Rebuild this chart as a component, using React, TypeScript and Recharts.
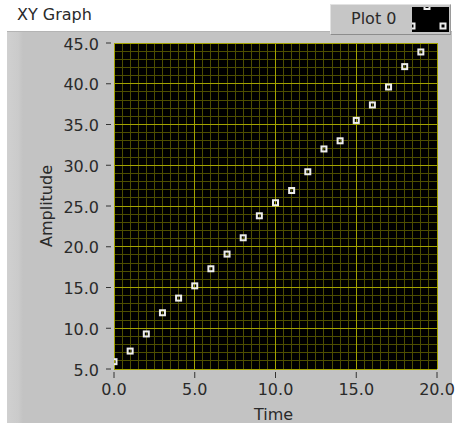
import React from "react";
import { ScatterChart, Scatter, XAxis, YAxis, CartesianGrid, Label } from "recharts";

const timeValues = [0, 1, 2, 3, 4, 5, 6, 7, 8, 9, 10, 11, 12, 13, 14, 15, 16, 17, 18, 19];
const amplitudeValues = [5.9, 7.2, 9.3, 11.9, 13.7, 15.2, 17.3, 19.1, 21.1, 23.8, 25.4, 26.9, 29.2, 32.0, 33.0, 35.5, 37.4, 39.6, 42.1, 43.9];

const xMajorTicks = [0, 5, 10, 15, 20];
const yMajorTicks = [5, 10, 15, 20, 25, 30, 35, 40, 45];
const xMinorTicks = [0, 0.5, 1, 1.5, 2, 2.5, 3, 3.5, 4, 4.5, 5, 5.5, 6, 6.5, 7, 7.5, 8, 8.5, 9, 9.5, 10, 10.5, 11, 11.5, 12, 12.5, 13, 13.5, 14, 14.5, 15, 15.5, 16, 16.5, 17, 17.5, 18, 18.5, 19, 19.5, 20];
const yMinorTicks = [5, 6, 7, 8, 9, 10, 11, 12, 13, 14, 15, 16, 17, 18, 19, 20, 21, 22, 23, 24, 25, 26, 27, 28, 29, 30, 31, 32, 33, 34, 35, 36, 37, 38, 39, 40, 41, 42, 43, 44, 45];

const chartTitle = "XY Graph";
const plotName = "Plot 0";
const xAxisName = "Time";
const yAxisName = "Amplitude";

const data = timeValues.map((t, i) => ({ time: t, amplitude: amplitudeValues[i] }));

const FONT = "'DejaVu Sans', Verdana, sans-serif";
const TEXT_COLOR = "#2a2a2a";

function XTick(props: any) {
  const { x, y, payload } = props;
  return (
    <g>
      <line x1={x} x2={x} y1={y + 3} y2={y + 9} stroke="#333" strokeWidth={1} />
      <text x={x} y={y + 26} textAnchor="middle" fontSize={16} fontFamily={FONT} fill={TEXT_COLOR}>
        {Number(payload.value).toFixed(1)}
      </text>
    </g>
  );
}

function YTick(props: any) {
  const { x, y, payload } = props;
  return (
    <g>
      <line x1={x - 8} x2={x - 3} y1={y} y2={y} stroke="#333" strokeWidth={1} />
      <text x={x - 15} y={y + 6.5} textAnchor="end" fontSize={16} fontFamily={FONT} fill={TEXT_COLOR}>
        {Number(payload.value).toFixed(1)}
      </text>
    </g>
  );
}

function TimeLabel(props: any) {
  const vb = props.viewBox;
  return (
    <text x={vb.x + vb.width / 2 - 2} y={vb.y + 51} textAnchor="middle" fontSize={16} fontFamily={FONT} fill={TEXT_COLOR}>
      {xAxisName}
    </text>
  );
}

function AmpLabel(props: any) {
  const vb = props.viewBox;
  const cx = vb.x + 38;
  const cy = vb.y + vb.height / 2;
  return (
    <text x={cx} y={cy} transform={`rotate(-90, ${cx}, ${cy})`} textAnchor="middle" fontSize={16} fontFamily={FONT} fill={TEXT_COLOR}>
      {yAxisName}
    </text>
  );
}

function SquarePoint(props: any) {
  const { cx, cy } = props;
  if (cx == null || cy == null) return <g />;
  return <rect x={cx - 2.5} y={cy - 2.5} width={5} height={5} fill="none" stroke="#eeeeee" strokeWidth={2} />;
}

const scaleOf = (axis: any) => (axis && axis.scale ? (typeof axis.scale === "function" ? axis.scale : axis.scale.map || axis.scale) : null);

const minorVertical = ({ xAxis }: any) => {
  const s = scaleOf(xAxis);
  return s ? xMinorTicks.map((v) => s(v)) : [];
};
const minorHorizontal = ({ yAxis }: any) => {
  const s = scaleOf(yAxis);
  return s ? yMinorTicks.map((v) => s(v)) : [];
};
const majorVertical = ({ xAxis }: any) => {
  const s = scaleOf(xAxis);
  return s ? xMajorTicks.map((v) => s(v)) : [];
};
const majorHorizontal = ({ yAxis }: any) => {
  const s = scaleOf(yAxis);
  return s ? yMajorTicks.map((v) => s(v)) : [];
};

export default function App() {
  return (
    <div style={{ position: "absolute", left: 0, top: 0, width: 459, height: 425, background: "#ffffff", overflow: "hidden", fontFamily: FONT }}>
      <div style={{ position: "absolute", left: 7, top: 31, width: 445, height: 392, background: "#c3c3c3", borderTop: "1px solid #b4b4b4", boxSizing: "border-box" }}>
        <div style={{ position: "absolute", left: 0, top: 0, width: 16, height: "100%", background: "linear-gradient(to right, #d0d0d0, #cbcbcb 70%, #c3c3c3)" }} />
      </div>
      <div style={{ position: "absolute", left: 17, top: 4, fontSize: 16, lineHeight: "22px", color: TEXT_COLOR, whiteSpace: "nowrap" }}>{chartTitle}</div>
      <div style={{ position: "absolute", left: 330, top: 4, width: 121, height: 31, background: "#c6c6c6", borderTop: "1px solid #e2e2e2", borderLeft: "1px solid #e2e2e2", borderBottom: "1px solid #8c8c8c", borderRight: "1px solid #9a9a9a", boxSizing: "border-box" }}>
        <div style={{ position: "absolute", left: 20, top: 3, fontSize: 16, lineHeight: "22px", color: TEXT_COLOR, whiteSpace: "nowrap" }}>{plotName}</div>
        <svg style={{ position: "absolute", left: 81, top: 2, overflow: "hidden" }} width={37} height={25}>
          <rect x={0} y={0} width={37} height={25} fill="#000" />
          <rect x={12.5} y={-3} width={5} height={5} fill="none" stroke="#eeeeee" strokeWidth={2} />
          <rect x={-2.5} y={16.5} width={5} height={5} fill="none" stroke="#eeeeee" strokeWidth={2} />
          <rect x={28.5} y={16.5} width={5} height={5} fill="none" stroke="#eeeeee" strokeWidth={2} />
        </svg>
      </div>
      <div style={{ position: "absolute", left: 0, top: 0 }}>
        <ScatterChart width={459} height={425} margin={{ top: 43, right: 22, bottom: 0, left: 14 }}>
          <XAxis type="number" dataKey="time" domain={[0, 20]} ticks={xMajorTicks} interval={0} height={56}
            axisLine={false} tickLine={false} tickSize={0} tickMargin={0} tick={<XTick />} allowDataOverflow>
            <Label content={TimeLabel} />
          </XAxis>
          <YAxis type="number" dataKey="amplitude" domain={[5, 45]} ticks={yMajorTicks} interval={0} width={100}
            axisLine={false} tickLine={false} tickSize={0} tickMargin={0} tick={<YTick />} allowDataOverflow>
            <Label content={AmpLabel} />
          </YAxis>
          <CartesianGrid stroke="#4e4e00" fill="#000000" fillOpacity={1} shapeRendering="crispEdges"
            verticalCoordinatesGenerator={minorVertical} horizontalCoordinatesGenerator={minorHorizontal} />
          <CartesianGrid stroke="#a2a200" shapeRendering="crispEdges"
            verticalCoordinatesGenerator={majorVertical} horizontalCoordinatesGenerator={majorHorizontal} />
          <Scatter data={data} shape={SquarePoint} isAnimationActive={false} />
        </ScatterChart>
      </div>
    </div>
  );
}
